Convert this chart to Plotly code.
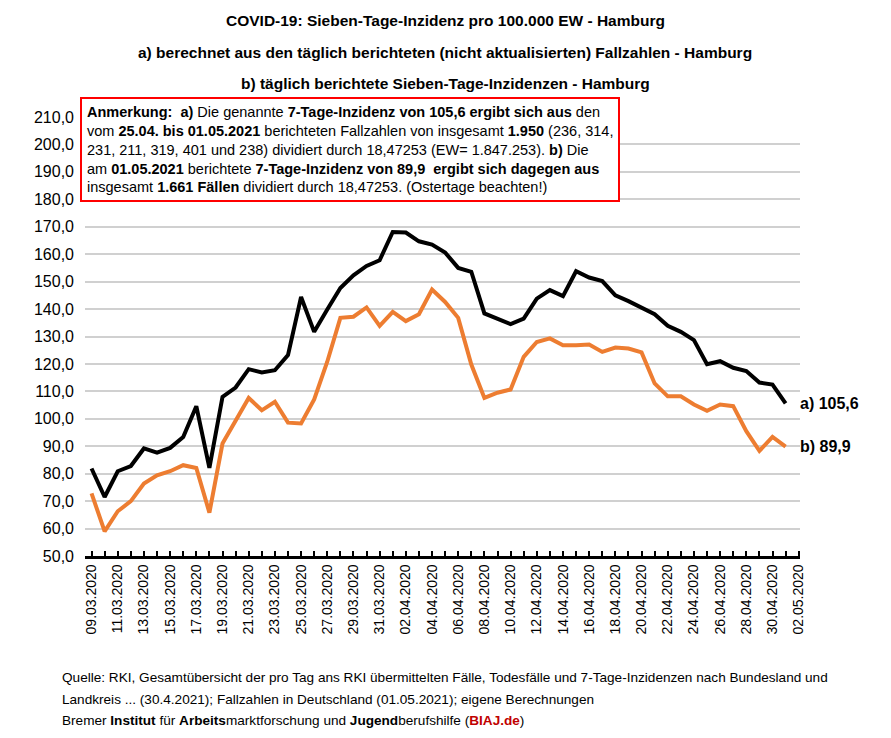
import pandas as pd
import plotly.graph_objects as go

# daily values 09.03 - 01.05
dates = pd.date_range('2020-03-09', '2020-05-02', freq='D').strftime('%d.%m.%Y').tolist()
berechnet = [
    81.9, 71.5, 80.9, 82.8, 89.2, 87.7, 89.4, 93.4, 104.6, 82.1,
    108.0, 111.4, 118.1, 116.9, 117.7, 123.2, 144.4, 131.7, 139.8, 147.7,
    152.3, 155.7, 157.8, 168.1, 167.9, 164.7, 163.5, 160.6, 155.0, 153.6,
    138.4, 136.5, 134.5, 136.5, 143.8, 146.9, 144.7, 153.8, 151.5, 150.2,
    145.0, 142.9, 140.6, 138.1, 133.9, 131.7, 128.7, 119.9, 121.0, 118.6,
    117.4, 113.2, 112.5, 105.6
]
berichtet = [
    72.8, 59.0, 66.3, 70.0, 76.4, 79.4, 80.9, 83.1, 82.1, 65.8,
    91.0, 99.5, 107.6, 103.1, 106.2, 98.6, 98.3, 107.1, 120.8, 136.8,
    137.2, 140.6, 133.9, 139.0, 135.6, 138.1, 147.1, 142.6, 136.8, 119.8,
    107.6, 109.5, 110.7, 122.6, 128.0, 129.3, 126.8, 126.8, 127.1, 124.4,
    126.0, 125.6, 124.2, 112.9, 108.2, 108.2, 105.2, 102.9, 105.2, 104.6,
    95.5, 88.3, 93.4, 89.9
]
y_ticks = list(range(50, 211, 10))

FONT = 'Liberation Sans'
idx = list(range(len(berechnet)))

fig = go.Figure()
fig.add_trace(go.Scatter(x=idx, y=berechnet, mode='lines', name='a)',
                         line=dict(color='black', width=4)))
fig.add_trace(go.Scatter(x=idx, y=berichtet, mode='lines', name='b)',
                         line=dict(color='#ED7D31', width=4)))

tickvals = list(range(len(dates)))
ticktext = [d if i % 2 == 0 else '' for i, d in enumerate(dates)]

fig.update_layout(
    width=891, height=738,
    margin=dict(l=77, r=99, t=109, b=190),
    plot_bgcolor='white', paper_bgcolor='white',
    showlegend=False,
    font=dict(family=FONT, size=14, color='black'),
    xaxis=dict(
        range=[-0.5, 54.1], tickvals=tickvals, ticktext=ticktext,
        tickangle=-90, ticks='inside', ticklen=5, tickwidth=1.5, tickcolor='black',
        showline=True, linecolor='black', linewidth=2.5, showgrid=False,
        tickfont=dict(size=14), zeroline=False
    ),
    yaxis=dict(
        range=[50, 210], tickvals=y_ticks,
        ticktext=[f'{v},0' for v in y_ticks],
        showgrid=True, gridcolor='#D0D0D0', gridwidth=1.5, zeroline=False,
        tickfont=dict(size=16), ticks='', showline=False, ticklabelstandoff=10
    ),
)

titles = [
    'COVID-19: Sieben-Tage-Inzidenz pro 100.000 EW - Hamburg',
    'a) berechnet aus den täglich berichteten (nicht aktualisierten) Fallzahlen - Hamburg',
    'b) täglich berichtete Sieben-Tage-Inzidenzen - Hamburg',
]
for t, py in zip(titles, [20, 52, 83]):
    fig.add_annotation(text=f'<b>{t}</b>', xref='paper', yref='paper',
                       x=(445 - 85) / 715, y=(556 - py) / 439, showarrow=False,
                       xanchor='center', yanchor='middle', font=dict(size=15.5))

note = (
    '<b>Anmerkung:  a)</b> Die genannte <b>7-Tage-Inzidenz von 105,6 ergibt sich aus</b> den<br>'
    'vom <b>25.04. bis 01.05.2021</b> berichteten Fallzahlen von insgesamt <b>1.950</b> (236, 314,<br>'
    '231, 211, 319, 401 und 238) dividiert durch 18,47253 (EW= 1.847.253). <b>b)</b> Die<br>'
    'am <b>01.05.2021</b> berichtete <b>7-Tage-Inzidenz von 89,9  ergibt sich dagegen aus</b><br>'
    'insgesamt <b>1.661 Fällen</b> dividiert durch 18,47253. (Ostertage beachten!)'
)
fig.add_annotation(text=note, xref='paper', yref='paper',
                   x=(80 - 85) / 715, y=(556 - 97) / 439, xanchor='left', yanchor='top',
                   showarrow=False, align='left', bgcolor='white',
                   bordercolor='#FF0000', borderwidth=2, borderpad=5,
                   font=dict(size=14.5))

fig.add_annotation(text='<b>a) 105,6</b>', x=53, y=berechnet[-1], xshift=12,
                   xanchor='left', showarrow=False, font=dict(size=16))
fig.add_annotation(text='<b>b) 89,9</b>', x=53, y=berichtet[-1], xshift=12,
                   xanchor='left', showarrow=False, font=dict(size=16))

footer = [
    'Quelle: RKI, Gesamtübersicht der pro Tag ans RKI übermittelten Fälle, Todesfälle und 7-Tage-Inzidenzen nach Bundesland und',
    'Landkreis ... (30.4.2021); Fallzahlen in Deutschland (01.05.2021); eigene Berechnungen',
    'Bremer <b>Institut</b> für <b>Arbeits</b>marktforschung und <b>Jugend</b>berufshilfe '
    '(<b><span style="color:#C00000">BIAJ.de</span></b>)',
]
for t, py in zip(footer, [677, 699, 720]):
    fig.add_annotation(text=t, xref='paper', yref='paper',
                       x=(60 - 85) / 715, y=(556 - py) / 439, xanchor='left',
                       yanchor='middle', showarrow=False, font=dict(size=13.6))

fig.write_html('out.html')
